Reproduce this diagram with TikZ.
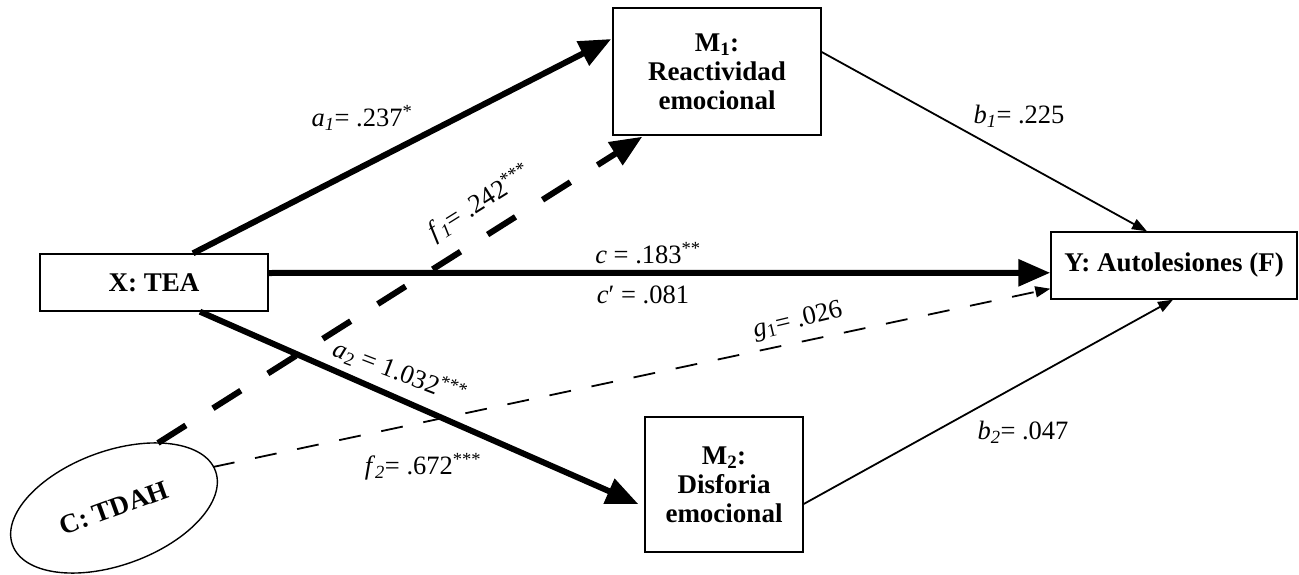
\documentclass[tikz,border=0pt]{standalone}
\usepackage{fontspec}
\setmainfont{Liberation Serif}
\usetikzlibrary{arrows.meta,shapes.geometric,calc}
\begin{document}
\begin{tikzpicture}[x=1pt,y=-1pt,
  box/.style={draw, line width=1.4pt, font=\bfseries\fontsize{27}{29}\selectfont, align=center, inner sep=0pt},
  lab/.style={font=\fontsize{26.5}{28}\selectfont, inner sep=0pt},
  thickarr/.style={line width=6pt, -{Triangle[length=32pt,width=26pt]}},
  thinarr/.style={line width=1.8pt, -{Triangle[length=15pt,width=11pt]}},
  thickdash/.style={thickarr, dash pattern=on 33pt off 32pt},
  thindash/.style={thinarr, dash pattern=on 22pt off 21pt},
]
\useasboundingbox (0,0) rectangle (1299,575);
\node[box, minimum width=228pt, minimum height=57pt] (X) at (154,282.5) {X: TEA};
\node[box, minimum width=208pt, minimum height=127pt] (M1) at (717,71.5) {M\textsubscript{1}:\\Reactividad\\emocional};
\node[box, minimum width=158pt, minimum height=135pt] (M2) at (724,484.5) {M\textsubscript{2}:\\Disforia\\emocional};
\node[box, minimum width=246pt, minimum height=67pt] (Y) at (1174,265.5) {Y: Autolesiones (F)};
\node[box, ellipse, minimum width=216pt, minimum height=114pt, rotate=20] (C) at (114,508) {C: TDAH};

\draw[thickarr] ($(X.north)+(39,0)$) -- ($(M1.west)+(-1,-32.5)$);
\draw[thickarr] ($(X.east)+(0,-9.5)$) -- ($(Y.west)+(0,7.3)$);
\draw[thickarr] ($(X.south)+(46,0)$) -- ($(M2.west)+(-6,19.5)$);
\draw[thickdash] ($(C.center)+(44,-65)$) -- ($(M1.south west)+(30,1)$);
\draw[thindash] ($(C.center)+(99,-41)$) -- ($(Y.south west)+(0,-11)$);
\draw[thinarr] ($(M1.east)+(0,-19.5)$) -- ($(Y.north)+(-27,0)$);
\draw[thinarr] ($(M2.east)+(0,19.5)$) -- ($(Y.south)+(-1,0)$);

\node[lab] (la1) at (362,118) {\textit{a}\textsubscript{\textit{1}}= .237\textsuperscript{*}};
\node[lab, rotate=32] (lf1) at (480,203) {\textit{f}\textsubscript{\textit{1}}= .242\textsuperscript{***}};
\node[lab] (lc) at (648,253) {\textit{c} = .183\textsuperscript{**}};
\node[lab] (lcp) at (643,295) {\textit{c}′ = .081};
\node[lab, rotate=-21] (la2) at (400,372) {\textit{a}\textsubscript{2} = 1.032\textsuperscript{***}};
\node[lab, rotate=13.5] (lg1) at (798,321) {\textit{g}\textsubscript{1}= .026};
\node[lab] (lf2) at (423,467) {\textit{f}\textsubscript{\textit{2}}= .672\textsuperscript{***}};
\node[lab] (lb1) at (1019,116) {\textit{b}\textsubscript{\textit{1}}= .225};
\node[lab] (lb2) at (1023,432) {\textit{b}\textsubscript{\textit{2}}= .047};
\end{tikzpicture}
\end{document}
